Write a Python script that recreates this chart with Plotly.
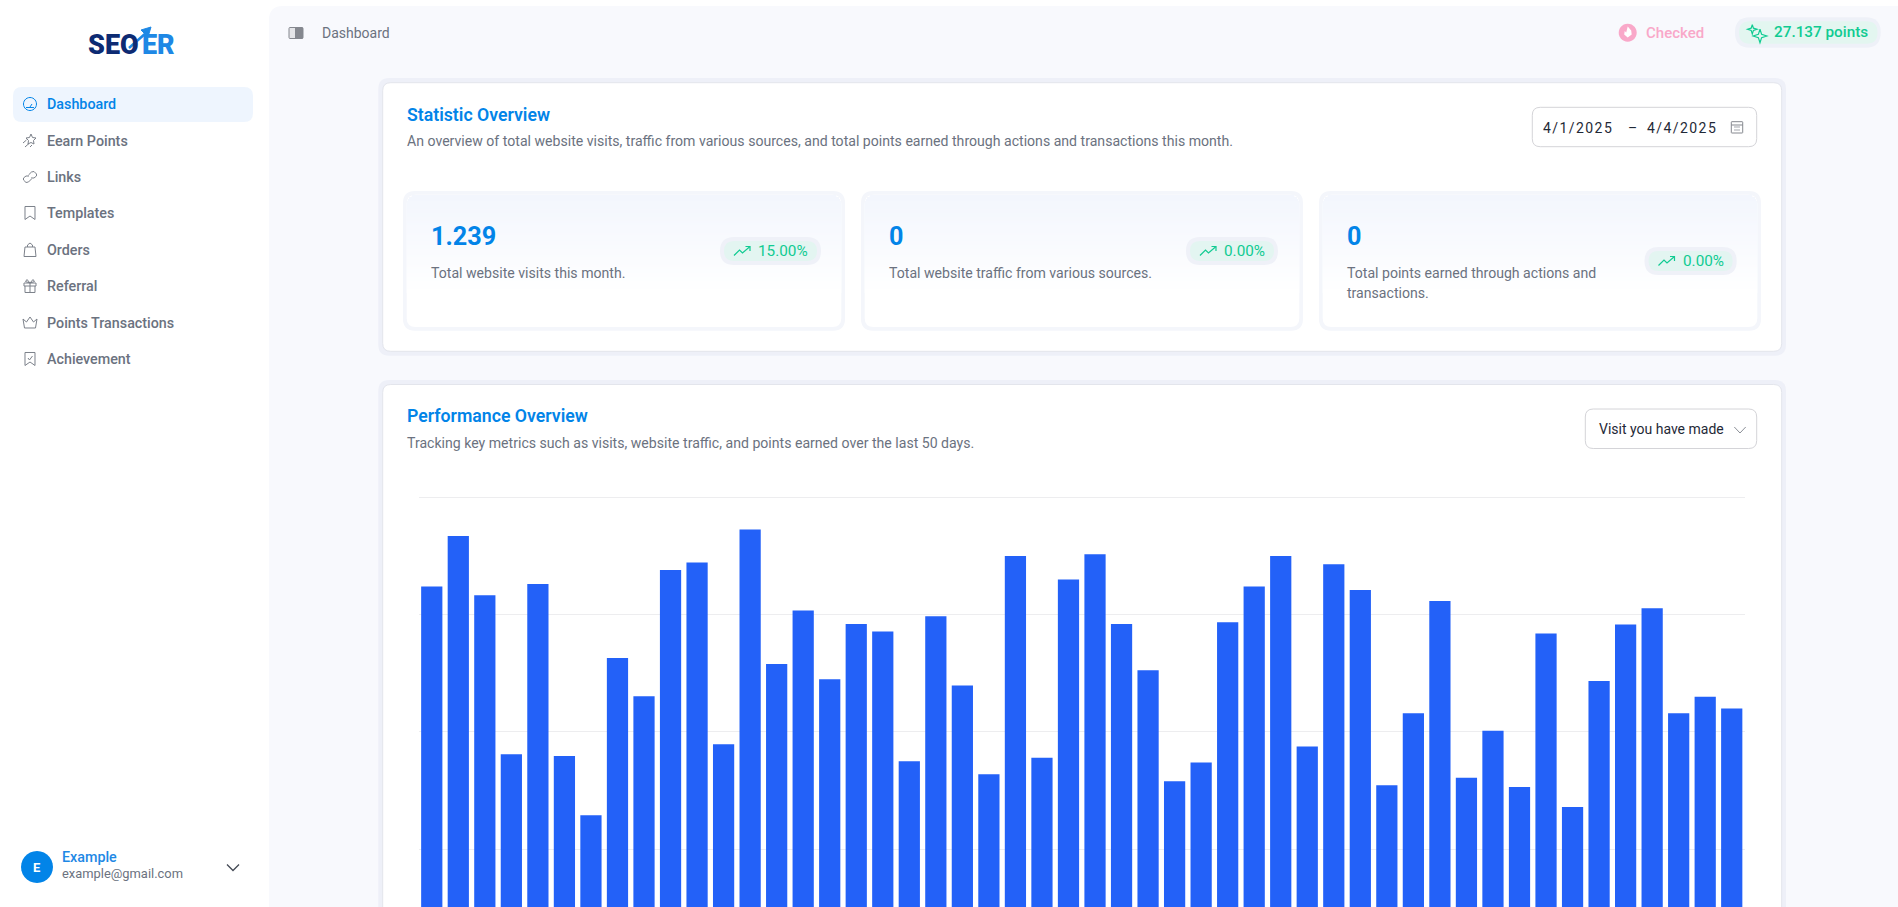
import math

import plotly.graph_objects as go

W, H = 1898, 907
FONT = "Roboto"

BLUE = "#0284E8"
GREY = "#6B7280"
DARK = "#1F2937"
GREEN = "#10CB92"
PINK = "#F9A8C9"
ICON = "#7C818A"
BAR = "#2361F8"

nav_labels = [
    "Dashboard",
    "Eearn Points",
    "Links",
    "Templates",
    "Orders",
    "Referral",
    "Points Transactions",
    "Achievement",
]
stat_values = ["1.239", "0", "0"]
stat_descriptions = [
    ["Total website visits this month."],
    ["Total website traffic from various sources."],
    ["Total points earned through actions and", "transactions."],
]
stat_changes = ["15.00%", "0.00%", "0.00%"]

days = list(range(1, 51))
visits = [
    84.8, 93.4, 83.3, 56.2, 85.2, 55.9, 45.8, 72.6, 66.1, 87.6,
    88.9, 57.9, 94.5, 71.6, 80.7, 69.0, 78.4, 77.1, 55.0, 79.7,
    67.9, 52.8, 90.0, 55.6, 86.0, 90.3, 78.4, 70.5, 51.6, 54.8,
    78.7, 84.8, 90.0, 57.5, 88.6, 84.2, 50.9, 63.2, 82.3, 52.2,
    60.2, 50.6, 76.8, 47.2, 68.7, 78.3, 81.1, 63.2, 66.0, 64.0,
]

shapes = []
notes = []


# Everything outside the bars is page chrome, so it is placed in screen pixels
def px(x):
    return x / W


def py(y):
    return 1 - y / H


def add_path(d, fill=None, line=None, width=1):
    shapes.append(
        dict(
            type="path",
            xref="paper",
            yref="paper",
            path=d,
            layer="below",
            fillcolor=fill or "rgba(0,0,0,0)",
            line=dict(color=line or "rgba(0,0,0,0)", width=width if line else 0),
        )
    )


def round_rect(x0, y0, x1, y1, r):
    """SVG path of a rounded rectangle, given in pixels."""
    points = [
        ("M", x0 + r, y0),
        ("L", x1 - r, y0),
        ("Q", x1, y0, x1, y0 + r),
        ("L", x1, y1 - r),
        ("Q", x1, y1, x1 - r, y1),
        ("L", x0 + r, y1),
        ("Q", x0, y1, x0, y1 - r),
        ("L", x0, y0 + r),
        ("Q", x0, y0, x0 + r, y0),
    ]
    parts = []
    for p in points:
        coords = p[1:]
        pairs = [
            f"{px(coords[i]):.5f},{py(coords[i + 1]):.5f}"
            for i in range(0, len(coords), 2)
        ]
        parts.append(p[0] + " ".join(pairs))
    return " ".join(parts) + " Z"


def box(x0, y0, x1, y1, r, fill=None, line=None, width=1):
    add_path(round_rect(x0, y0, x1, y1, r), fill, line, width)


def polyline(points, cx=0, cy=0, closed=False):
    parts = [
        ("M" if i == 0 else "L") + f"{px(cx + x):.5f},{py(cy + y):.5f}"
        for i, (x, y) in enumerate(points)
    ]
    return " ".join(parts) + (" Z" if closed else "")


def ring(cx, cy, r, start=0, end=360, n=28):
    return [
        (
            cx + r * math.cos(math.radians(start + (end - start) * i / n)),
            cy + r * math.sin(math.radians(start + (end - start) * i / n)),
        )
        for i in range(n + 1)
    ]


def icon(strokes, cx, cy, color=ICON, width=1):
    for s in strokes:
        add_path(polyline(s, cx, cy), None, color, width)


def star4(cx, cy, r):
    k = r * 0.24
    return [
        (cx, cy - r),
        (cx + k, cy - k),
        (cx + r, cy),
        (cx + k, cy + k),
        (cx, cy + r),
        (cx - k, cy + k),
        (cx - r, cy),
        (cx - k, cy - k),
        (cx, cy - r),
    ]


def text(x, y, s, size=14, color=GREY, weight=400, anchor="left", family=FONT):
    # annotations keep about a pixel of padding on their left side
    notes.append(
        dict(
            xref="paper",
            yref="paper",
            x=px(x - 1 if anchor == "left" else x),
            y=py(y),
            text=s,
            showarrow=False,
            xanchor=anchor,
            yanchor="middle",
            borderpad=0,
            font=dict(family=family, size=size, color=color, weight=weight),
        )
    )


def mix(c0, c1, t):
    a = [int(c0[i : i + 2], 16) for i in (1, 3, 5)]
    b = [int(c1[i : i + 2], 16) for i in (1, 3, 5)]
    return "#" + "".join(f"{round(u + (v - u) * t):02X}" for u, v in zip(a, b))


# Main panel behind the cards
box(269, 6, W + 20, H + 40, 14, fill="#F8F9FD")

# Logo
text(88, 45, "SE", 27, "#0D2B73", 900)
text(120, 45, "O", 27, "#0D2B73", 900)
text(141.5, 45, "ER", 27, "#1E88E5", 900)
add_path(polyline([(122, 55), (146, 33)]), None, "#FFFFFF", 5)
add_path(polyline([(129, 48), (146, 33)]), None, "#1E88E5", 2.5)
add_path(
    polyline([(141, 30), (151, 27), (148, 37)], closed=True), "#1E88E5", "#1E88E5", 1
)

# Sidebar
nav_y = [104, 141, 177, 213, 250, 286, 323, 359]
box(13, 87, 253, 122, 9, fill="#EEF5FE")
for i, (label, y) in enumerate(zip(nav_labels, nav_y)):
    text(46.5, y, label, 14.3, BLUE if i == 0 else GREY, 500)

icon([ring(0, 0, 6.5), [(0, 3), (2, 0)], [(-4, 3.5), (4, 3.5)]], 30, 104, BLUE)
icon(
    [
        [(1, -7), (2.5, -3.5), (6, -3), (3.5, -0.5), (4, 3), (1, 1.5), (-2, 3), (-1.5, -0.5), (-4, -3), (-0.5, -3.5), (1, -7)],
        [(-7, 2), (-3.5, -1)],
        [(-5, 6), (-1, 2.5)],
        [(0, 6), (2, 4)],
    ],
    30,
    141,
)
icon(
    [
        [(-1, -1), (-4, -1), (-6.5, 1), (-6.5, 3), (-4, 5.5), (-1.5, 5), (1.5, 2)],
        [(1, 1), (4, 1), (6.5, -1), (6.5, -3), (4, -5.5), (1.5, -5), (-1.5, -2)],
    ],
    30,
    177,
)
icon([[(-5, -6.5), (5, -6.5), (5, 6.5), (0, 3), (-5, 6.5), (-5, -6.5)]], 30, 213)
icon(
    [
        [(-5, -3), (5, -3), (6, 6.5), (-6, 6.5), (-5, -3)],
        [(-2.5, -3), (-2.5, -5), (0, -7), (2.5, -5), (2.5, -3)],
    ],
    30,
    250,
)
icon(
    [
        [(-6, -3), (6, -3), (6, 0), (-6, 0), (-6, -3)],
        [(-5, 0), (-5, 6.5), (5, 6.5), (5, 0)],
        [(0, -3), (0, 6.5)],
        [(0, -3), (-3, -6.5), (-4.5, -4.5), (0, -3), (3, -6.5), (4.5, -4.5), (0, -3)],
    ],
    30,
    286,
)
icon(
    [
        [(-7, -4), (-3.5, -1), (0, -6), (3.5, -1), (7, -4), (5.5, 5), (-5.5, 5), (-7, -4)],
    ],
    30,
    323,
)
icon(
    [
        [(-5, -6.5), (5, -6.5), (5, 6.5), (0, 3), (-5, 6.5), (-5, -6.5)],
        [(-2, -1), (-0.5, 1), (2.5, -3)],
    ],
    30,
    359,
)

# User block at the bottom of the sidebar
add_path(polyline(ring(37, 867, 16), closed=True), BLUE)
text(37, 867, "E", 13, "#FFFFFF", 700, anchor="center")
text(61.5, 857, "Example", 14.3, "#1E88E5", 500)
text(61.5, 873.5, "example@gmail.com", 12.9, GREY)
icon([[(-6, -3), (0, 3), (6, -3)]], 233, 867.5, "#444A55", 1.3)

# Top bar
box(289, 27.5, 303, 38.5, 1, fill="#E4E5E8", line="#85888F")
add_path(round_rect(295, 27.5, 303, 38.5, 0.5), "#85888F")
text(322, 33, "Dashboard", 14, GREY)

add_path(polyline(ring(1627.7, 32.7, 9), closed=True), PINK)
add_path(
    polyline(
        [(1627.7, 26.5), (1631.2, 30.5), (1631.7, 34.5), (1627.7, 37.5), (1624.2, 34.5), (1624.7, 31), (1626.2, 32.5), (1627.7, 26.5)],
        closed=True,
    ),
    "#FFFFFF",
)
text(1645.5, 32.7, "Checked", 15, PINK, 500)

box(1735, 17.3, 1880.7, 47.7, 15, fill="#EEF1F8")
box(1739, 21.3, 1877.5, 43.7, 11, fill="#E3F6F0")
add_path(polyline(star4(1760, 36, 6.8)), None, GREEN, 1.2)
add_path(polyline(star4(1752.3, 29.3, 4.7)), None, GREEN, 1.2)
text(1774, 32.3, "27.137 points", 15.3, GREEN, 500)

# Statistic Overview card
box(378.3, 78, 1786, 355.7, 11, fill="#EEF0F8")
box(382.7, 82.7, 1781.7, 351.3, 8, fill="#FFFFFF", line="#E3E5EC")
text(407, 115, "Statistic Overview", 17.7, BLUE, 600)
text(
    407,
    141,
    "An overview of total website visits, traffic from various sources, and total "
    "points earned through actions and transactions this month.",
    14.1,
)

box(1532.3, 107.3, 1756.7, 146.7, 8, fill="#FFFFFF", line="#D4D4D8")
hair = "\u200a"
text(1542.7, 128, hair.join("4/1/2025"), 14, DARK)
text(1632, 128, "\u2013", 14, DARK, anchor="center")
text(1647, 128, hair.join("4/4/2025"), 14, DARK)
box(1731.3, 121.7, 1742.7, 133, 0.5, line="#85888F")
add_path(polyline([(1731.3, 125), (1742.7, 125)]), None, "#85888F", 1)
icon([[(-3, 0), (3, 0)], [(-3, 3), (3, 3)]], 1737, 127, "#A3A6AD", 1)

stat_cards = [(403, 845), (861, 1303), (1319, 1761)]
pill_boxes = [(720, 237, 821), (1186, 237, 1278), (1644.5, 247, 1736.7)]
for i, (x0, x1) in enumerate(stat_cards):
    box(x0, 191, x1, 330.7, 12, fill="#F4F6FB")
    box(x0 + 3.7, 194.7, x1 - 3.7, 327, 9, fill="#FFFFFF")
    # Soft vertical fade at the top of each stat card, drawn as thin strips
    r = 9
    for y in range(195, 293, 2):
        d = y + 1 - 195
        inset = r - math.sqrt(r * r - (r - d) ** 2) if d < r else 0
        shapes.append(
            dict(
                type="rect",
                xref="paper",
                yref="paper",
                x0=px(x0 + 3.7 + inset),
                x1=px(x1 - 3.7 - inset),
                y0=py(y),
                y1=py(y + 2),
                layer="below",
                fillcolor=mix("#F3F6FD", "#FFFFFF", (y - 195) / 98),
                line=dict(width=0),
            )
        )
    text(x0 + 27.7, 236, stat_values[i], 25.2, BLUE, 700)
    for j, line in enumerate(stat_descriptions[i]):
        text(x0 + 27.7, 273.3 + j * 19.6, line, 14.1)

    px0, py0, px1 = pill_boxes[i]
    box(px0, py0, px1, py0 + 28, 14, fill="#EFF1F8")
    box(px0 + 4, py0 + 4, px1 - 4, py0 + 24, 10, fill="#E3F5F1")
    icon(
        [
            [(-8, 4.5), (-2.5, -1), (0.5, 2), (8, -4.5)],
            [(3.5, -4.5), (8, -4.5), (8, 0)],
        ],
        px0 + 22,
        py0 + 14,
        GREEN,
        1.2,
    )
    text(px0 + 38, py0 + 14, stat_changes[i], 15.3, GREEN, 400)

# Performance Overview card
box(378.3, 380, 1786, H + 40, 11, fill="#EEF0F8")
box(382.7, 384.5, 1781.7, H + 30, 8, fill="#FFFFFF", line="#E3E5EC")
text(407, 416.5, "Performance Overview", 17.7, BLUE, 600)
text(
    407,
    443,
    "Tracking key metrics such as visits, website traffic, and points earned over "
    "the last 50 days.",
    14.1,
)
box(1585.3, 409, 1756.7, 448.5, 8, fill="#FFFFFF", line="#D4D4D8")
text(1598.7, 428.5, "Visit you have made", 14, DARK)
icon([[(-5.7, -3), (0, 3), (5.7, -3)]], 1740, 430, "#8B8F97", 1)

fig = go.Figure(
    go.Bar(
        x=days,
        y=visits,
        marker=dict(color=BAR, line=dict(width=0)),
        hoverinfo="skip",
    )
)

fig.update_layout(
    width=W,
    height=H,
    margin=dict(l=0, r=0, t=0, b=0),
    paper_bgcolor="#FFFFFF",
    plot_bgcolor="rgba(0,0,0,0)",
    showlegend=False,
    bargap=0.2,
    shapes=shapes,
    annotations=notes,
    xaxis=dict(
        domain=[418.5 / W, 1745 / W],
        range=[0.5, 50.5],
        visible=False,
        fixedrange=True,
    ),
    # The chart runs past the bottom of the window, so its axis is cut off there
    yaxis=dict(
        domain=[0, (H - 490) / H],
        range=[30.16, 101.24],
        tickvals=[40, 60, 80, 100],
        showticklabels=False,
        showgrid=True,
        gridcolor="#EDEDEF",
        gridwidth=1,
        zeroline=False,
        showline=False,
        ticks="",
        fixedrange=True,
    ),
)

fig.write_html(
    "out.html",
    config=dict(displayModeBar=False),
    post_script=(
        "document.body.style.margin='0';document.body.style.overflow='hidden';"
    ),
)
